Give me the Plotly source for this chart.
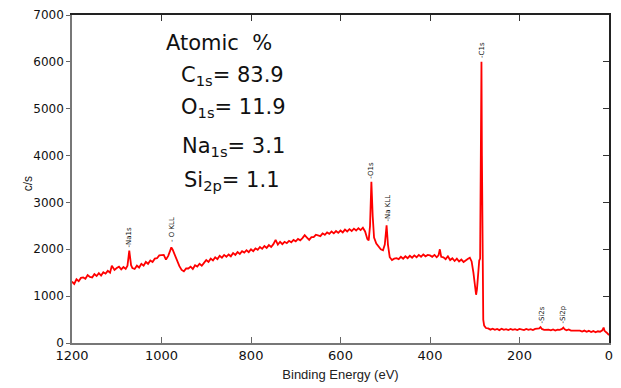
import plotly.graph_objects as go

# XPS survey spectrum: binding energy (eV) and intensity (counts per second)
energy = [
    1200, 1195, 1190, 1185, 1180, 1175, 1170, 1165, 1160, 1155, 1150, 1145, 1140, 1135, 1130,
    1125, 1120, 1115, 1111, 1105, 1100, 1095, 1090, 1085, 1080, 1076, 1072, 1068, 1065, 1060,
    1055, 1050, 1045, 1040, 1035, 1030, 1025, 1020, 1015, 1010, 1005, 1000, 995, 990, 985,
    981, 978, 975, 970, 965, 960, 955, 950, 945, 940, 935, 930, 925, 920, 915,
    910, 905, 900, 895, 890, 885, 880, 875, 870, 865, 860, 855, 850, 845, 840,
    835, 830, 825, 820, 815, 810, 805, 800, 795, 790, 785, 780, 775, 770, 765,
    760, 755, 750, 745, 740, 735, 730, 725, 720, 715, 710, 705, 700, 695, 690,
    685, 680, 675, 670, 665, 660, 655, 650, 645, 640, 635, 630, 625, 620, 615,
    610, 605, 600, 595, 590, 585, 580, 575, 570, 565, 560, 555, 550, 545, 540,
    537, 534, 531, 528, 525, 520, 515, 510, 505, 501, 497, 494, 490, 485, 480,
    475, 470, 465, 460, 455, 450, 445, 440, 435, 430, 425, 420, 415, 410, 405,
    400, 395, 390, 385, 381, 378, 375, 370, 365, 360, 355, 350, 345, 340, 335,
    330, 325, 320, 315, 311, 307, 303, 300, 297, 295, 292, 290, 288, 286, 285,
    284, 282, 281, 279, 275, 270, 265, 260, 255, 250, 245, 240, 235, 230, 225,
    220, 215, 210, 205, 200, 195, 190, 185, 180, 175, 170, 165, 160, 156, 153,
    150, 145, 140, 135, 130, 125, 120, 115, 110, 105, 102, 99, 95, 90, 85,
    80, 75, 70, 65, 60, 55, 50, 45, 40, 35, 30, 25, 20, 15, 12,
    10, 5, 0,
]
counts = [
    1310, 1260, 1360, 1320, 1390, 1400, 1370, 1450, 1410, 1400, 1470, 1430, 1490, 1440, 1510,
    1480, 1540, 1500, 1650, 1560, 1600, 1630, 1570, 1620, 1580, 1650, 1970, 1660, 1600, 1580,
    1650, 1610, 1690, 1650, 1730, 1690, 1760, 1730, 1800, 1810, 1870, 1880, 1880, 1780, 1860,
    1960, 2040, 1990, 1880, 1740, 1640, 1560, 1530, 1590, 1590, 1630, 1580, 1660, 1630, 1690,
    1650, 1710, 1770, 1730, 1800, 1760, 1830, 1790, 1860, 1820, 1880, 1840, 1890, 1850, 1920,
    1880, 1940, 1900, 1960, 1930, 1980, 1940, 2000, 1960, 2020, 1990, 2050, 2010, 2070, 2030,
    2090, 2050, 2110, 2200, 2100, 2160, 2110, 2160, 2130, 2180, 2150, 2200, 2170, 2220, 2190,
    2240, 2300, 2250, 2200, 2260, 2260, 2310, 2300, 2280, 2340, 2310, 2360, 2330, 2380, 2340,
    2390, 2350, 2400, 2360, 2420, 2380, 2430, 2390, 2440, 2400, 2450, 2410, 2460, 2380, 2220,
    2190, 2500, 3440, 2700, 2250, 2120, 2060, 2000, 1980, 2100, 2510, 2100, 1830, 1770, 1800,
    1810, 1790, 1840, 1800, 1850, 1810, 1860, 1820, 1870, 1830, 1880, 1840, 1890, 1850, 1880,
    1870, 1840, 1880, 1830, 1870, 2000, 1840, 1830, 1790, 1850, 1770, 1810, 1750, 1800, 1740,
    1780, 1730, 1770, 1800, 1820, 1740, 1500, 1200, 1030, 1150, 1550, 1760, 1800, 4500, 6000,
    4000, 1200, 500, 370, 320, 310, 285, 305, 280, 300, 275, 305, 280, 295, 275,
    300, 280, 295, 275, 300, 280, 275, 300, 280, 295, 275, 300, 300, 310, 340,
    300, 280, 285, 285, 270, 290, 265, 285, 280, 300, 330, 290, 270, 290, 265,
    265, 270, 260, 265, 245, 265, 240, 260, 235, 255, 230, 250, 240, 270, 330,
    260, 220, 170,
]

# Peak assignments: label, energy, count level where the label starts
peak_names = ["-Na1s", "- O KLL", "-O1s", "-Na KLL", "-C1s", "-Si2s", "-Si2p"]
peak_energy = [1072, 978, 531, 494, 285, 150, 102]
peak_level = [1990, 2110, 3460, 2560, 6050, 380, 380]

# Atomic composition
elements = ["C", "O", "Na", "Si"]
orbitals = ["1s", "1s", "1s", "2p"]
atomic_pct = [83.9, 11.9, 3.1, 1.1]

fig = go.Figure()
fig.add_trace(go.Scatter(
    x=energy, y=counts, mode="lines",
    line=dict(color="#ff0000", width=1.8),
    showlegend=False, hoverinfo="skip",
))
# Same spectrum on the mirrored frame axes (invisible) so the top/right axes render
fig.add_trace(go.Scatter(
    x=energy, y=counts, mode="lines", xaxis="x2", yaxis="y2",
    line=dict(color="rgba(0,0,0,0)", width=0),
    showlegend=False, hoverinfo="skip",
))

tick_font = dict(family="DejaVu Sans, Arial, sans-serif", size=12, color="#111111")

fig.update_layout(
    width=621, height=388,
    margin=dict(l=72, r=8, t=15, b=43),
    paper_bgcolor="white", plot_bgcolor="white",
    xaxis=dict(
        range=[1200, 0], tickvals=[1200, 1000, 800, 600, 400, 200, 0],
        ticks="inside", ticklen=6, tickcolor="#666666",
        showline=True, linecolor="#777777", linewidth=1.5,
        showgrid=False, zeroline=False, tickfont=dict(tick_font, size=13),
        title=dict(text="Binding Energy (eV)", standoff=8,
                   font=dict(family="Liberation Sans Narrow, Liberation Sans, Arial", size=13, color="#222222")),
    ),
    xaxis2=dict(
        range=[1200, 0], overlaying="x", side="top",
        tickvals=[1000, 800, 600, 400, 200],
        ticks="inside", ticklen=6, tickcolor="#333333", showticklabels=False,
        showline=True, linecolor="#222222", linewidth=1.5,
        showgrid=False, zeroline=False,
    ),
    yaxis=dict(
        range=[0, 7000], tickvals=[0, 1000, 2000, 3000, 4000, 5000, 6000, 7000],
        ticks="outside", ticklen=4, tickcolor="#666666",
        showline=True, linecolor="#777777", linewidth=1.5,
        showgrid=False, zeroline=False, tickfont=tick_font,
    ),
    yaxis2=dict(
        range=[0, 7000], overlaying="y", side="right",
        tickvals=[1000, 2000, 3000, 4000, 5000, 6000],
        ticks="inside", ticklen=6, tickcolor="#333333", showticklabels=False,
        showline=True, linecolor="#222222", linewidth=1.5,
        showgrid=False, zeroline=False,
    ),
)

# Small vertical peak labels
for name, e, lvl in zip(peak_names, peak_energy, peak_level):
    fig.add_annotation(
        x=e, y=lvl, xref="x", yref="y", text=name, showarrow=False,
        textangle=-90, xanchor="center", yanchor="bottom",
        font=dict(family="DejaVu Sans, Arial", size=7, color="#111111"),
    )

# Text placed in pixel units of the canvas
pw, ph = 621 - 72 - 8, 388 - 15 - 43


def px_to_paper(px, py):
    return (px - 72) / pw, 1 - (py - 15) / ph


# Y-axis label sits between the tick labels
lx, ly = px_to_paper(28, 185)
fig.add_annotation(
    x=lx, y=ly, xref="paper", yref="paper", text="c/s", showarrow=False,
    textangle=-90, xanchor="center", yanchor="middle",
    font=dict(family="Liberation Sans, Arial", size=12, color="#222222"),
)

big_font = dict(family="DejaVu Sans, sans-serif", size=21, color="#111111")
hx, hy = px_to_paper(165, 43)
fig.add_annotation(
    x=hx, y=hy, xref="paper", yref="paper", text="Atomic  %", showarrow=False,
    font=big_font, xanchor="left", yanchor="middle",
)
row_y = [76, 109, 148, 182]
row_x = [180, 180, 181, 183]
for el, orb, pct, yy, xx in zip(elements, orbitals, atomic_pct, row_y, row_x):
    ax_, ay_ = px_to_paper(xx, yy)
    fig.add_annotation(
        x=ax_, y=ay_, xref="paper", yref="paper",
        text=f"{el}<sub>{orb}</sub>= {pct}", showarrow=False,
        font=big_font, xanchor="left", yanchor="middle",
    )

fig.write_html("out.html")
